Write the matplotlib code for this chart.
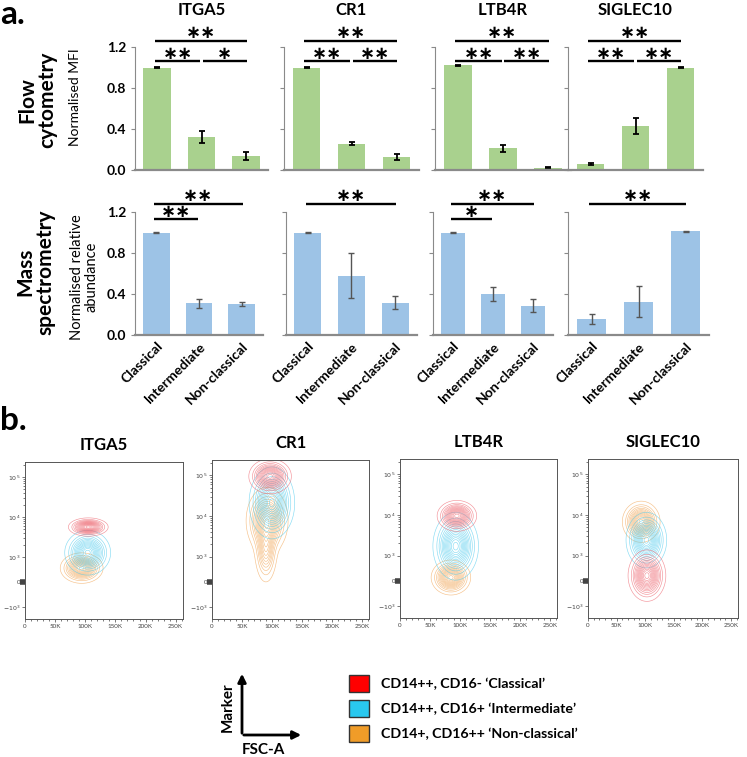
import numpy as np
import matplotlib
matplotlib.use("Agg")
import matplotlib.pyplot as plt
from matplotlib.patches import Patch, FancyArrowPatch

plt.rcParams['font.family'] = ['Lato', 'DejaVu Sans']

W, H = 747, 757

groups = ['Classical', 'Intermediate', 'Non-classical']
markers = ['ITGA5', 'CR1', 'LTB4R', 'SIGLEC10']

# flow cytometry, normalised MFI
flow_mean = {
    'ITGA5': [1.0, 0.32, 0.135],
    'CR1': [1.0, 0.255, 0.125],
    'LTB4R': [1.02, 0.21, 0.02],
    'SIGLEC10': [0.055, 0.43, 1.0],
}
flow_err = {
    'ITGA5': [0.005, 0.058, 0.04],
    'CR1': [0.005, 0.015, 0.03],
    'LTB4R': [0.005, 0.03, 0.005],
    'SIGLEC10': [0.01, 0.075, 0.005],
}
# mass spectrometry, normalised relative abundance
ms_mean = {
    'ITGA5': [1.0, 0.31, 0.30],
    'CR1': [1.0, 0.58, 0.315],
    'LTB4R': [1.0, 0.40, 0.285],
    'SIGLEC10': [0.155, 0.325, 1.01],
}
ms_err = {
    'ITGA5': [0.004, 0.042, 0.02],
    'CR1': [0.004, 0.22, 0.065],
    'LTB4R': [0.004, 0.073, 0.064],
    'SIGLEC10': [0.047, 0.15, 0.004],
}

# significance brackets: (group from, group to, height, stars)
flow_sig = {
    'ITGA5': [(0, 2, 1.26, '∗∗'), (0, 1, 1.06, '∗∗'), (1, 2, 1.06, '∗')],
    'CR1': [(0, 2, 1.26, '∗∗'), (0, 1, 1.06, '∗∗'), (1, 2, 1.06, '∗∗')],
    'LTB4R': [(0, 2, 1.26, '∗∗'), (0, 1, 1.06, '∗∗'), (1, 2, 1.06, '∗∗')],
    'SIGLEC10': [(0, 2, 1.26, '∗∗'), (0, 1, 1.06, '∗∗'), (1, 2, 1.06, '∗∗')],
}
ms_sig = {
    'ITGA5': [(0, 2, 1.28, '∗∗'), (0, 1, 1.13, '∗∗')],
    'CR1': [(0, 2, 1.28, '∗∗')],
    'LTB4R': [(0, 2, 1.28, '∗∗'), (0, 1, 1.13, '∗')],
    'SIGLEC10': [(0, 2, 1.28, '∗∗')],
}

# contour populations (classical, intermediate, non-classical)
# each component: (FSC-A centre, marker centre, FSC-A sd, marker sd in display decades, weight)
contour_pops = {
    'ITGA5': [
        [(105e3, 5700, 13e3, 0.09, 1.0)],
        [(104e3, 1300, 15e3, 0.22, 1.0)],
        [(94e3, 565, 14e3, 0.15, 1.0)],
    ],
    'CR1': [
        [(97e3, 95000, 14e3, 0.17, 1.0)],
        [(100e3, 21000, 15e3, 0.35, 1.0)],
        [(92e3, 7600, 14e3, 0.33, 1.0), (90e3, 1500, 8e3, 0.35, 0.6)],
    ],
    'LTB4R': [
        [(95e3, 9500, 13e3, 0.15, 1.0)],
        [(93e3, 1700, 15e3, 0.33, 1.0)],
        [(85e3, 125, 13e3, 0.17, 1.0)],
    ],
    'SIGLEC10': [
        [(103e3, 200, 13e3, 0.25, 1.0)],
        [(102e3, 2400, 14e3, 0.27, 1.0)],
        [(93e3, 6800, 13e3, 0.2, 1.0)],
    ],
}
pop_colors = ['#ee6670', '#55cdee', '#f2a85a']
legend_colors = ['#ff0000', '#29c8ef', '#f09c28']
legend_labels = ["CD14++, CD16- \u2018Classical\u2019",
                 "CD14++, CD16+ \u2018Intermediate\u2019",
                 "CD14+, CD16++ \u2018Non-classical\u2019"]

fsc_ticks = [0, 50e3, 100e3, 150e3, 200e3, 250e3]
fsc_labels = ['0', '50K', '100K', '150K', '200K', '250K']
marker_ticks = [-1e3, 0, 1e3, 1e4, 1e5]
marker_labels = ['$-10^3$', '0', '$10^3$', '$10^4$', '$10^5$']


def biex(y):
    y = np.asarray(y, dtype=float)
    a = np.abs(y)
    lg = 0.62 + np.log10(np.maximum(a, 1000) / 1000)
    return np.sign(y) * np.where(a <= 1000, a / 1000 * 0.62, lg)


def biex_inv(t):
    t = np.asarray(t, dtype=float)
    a = np.abs(t)
    lg = 1000 * 10 ** (np.maximum(a, 0.62) - 0.62)
    return np.sign(t) * np.where(a <= 0.62, a / 0.62 * 1000, lg)


fig = plt.figure(figsize=(W / 100, H / 100), dpi=100)


def px_axes(left, top, right, bottom):
    return fig.add_axes([left / W, 1 - bottom / H, (right - left) / W, (bottom - top) / H])


def bar_panel(ax, means, errs, color, ecolor, elw, sig, first, bottom_row):
    x = np.arange(len(groups))
    ax.bar(x, means, width=0.62, color=color, yerr=errs, ecolor=ecolor,
           capsize=2, error_kw=dict(elinewidth=elw, capthick=elw))
    ax.set_xlim(-0.5, 2.5)
    ax.set_ylim(0, 1.2)
    ax.set_yticks([0, 0.4, 0.8, 1.2])
    for s in ['top', 'right']:
        ax.spines[s].set_visible(False)
    ax.spines['left'].set_color('#8a8a8a')
    ax.spines['left'].set_linewidth(0.8)
    ax.spines['bottom'].set_color('#8a8a8a')
    ax.spines['bottom'].set_linewidth(1.6)
    ax.tick_params(axis='y', length=3, color='#8a8a8a', labelsize=10)
    ax.tick_params(axis='x', length=0)
    if first:
        ax.set_yticklabels(['%.1f' % v for v in [0, 0.4, 0.8, 1.2]], fontweight='bold')
    else:
        ax.set_yticklabels([])
    if bottom_row:
        ax.set_xticks(x)
        ax.set_xticklabels(groups, rotation=45, ha='right', rotation_mode='anchor',
                           fontweight='bold', fontsize=10)
    else:
        ax.set_xticks([])
    for i, j, h, lab in sig:
        x0 = i - 0.05 if i == 0 else i + 0.03
        x1 = j + 0.02 if j == 2 else j - 0.03
        ax.plot([x0, x1], [h, h], color='black', lw=1.7, clip_on=False,
                solid_capstyle='butt')
        ax.annotate(lab, ((x0 + x1) / 2, h), xytext=(0, 5.5), textcoords='offset points',
                    ha='center', va='center', fontsize=13, fontweight='bold',
                    family=['DejaVu Sans'], annotation_clip=False)


top_pos = [(135, 133), (284, 135), (435, 136), (568, 135)]
bot_pos = [(135, 128), (286, 131), (433, 120), (568, 141)]

for k, m in enumerate(markers):
    l, w = top_pos[k]
    ax = px_axes(l, 47, l + w, 170)
    bar_panel(ax, flow_mean[m], flow_err[m], '#a9d18e', 'black', 1.3,
              flow_sig[m], k == 0, False)
    ax.set_title(m, fontsize=12, fontweight='bold', pad=23)

    l, w = bot_pos[k]
    ax = px_axes(l, 212, l + w, 335)
    bar_panel(ax, ms_mean[m], ms_err[m], '#9dc3e6', '#555555', 1.0,
              ms_sig[m], k == 0, True)

# row labels
fig.text(37 / W, 1 - 100 / H, 'Flow\ncytometry', rotation=90, ha='center', va='center',
         fontsize=15, fontweight='bold', linespacing=1.0, multialignment='center')
fig.text(75 / W, 1 - 97 / H, 'Normalised MFI', rotation=90, ha='center', va='center',
         fontsize=10)
fig.text(35 / W, 1 - 272 / H, 'Mass\nspectrometry', rotation=90, ha='center', va='center',
         fontsize=15, fontweight='bold', linespacing=1.0, multialignment='center')
fig.text(84 / W, 1 - 277 / H, 'Normalised relative\nabundance', rotation=90, ha='center',
         va='center', fontsize=10.5, linespacing=1.0, multialignment='center')

fig.text(0, 1 - 14 / H, 'a.', fontsize=24, fontweight='bold', va='center', ha='left')
fig.text(0, 1 - 420 / H, 'b.', fontsize=24, fontweight='bold', va='center', ha='left')

# contour plots
flow_boxes = [(25, 462, 183, 619), (212, 460, 369, 619), (400, 459, 557, 618), (588, 459, 738, 618)]
gx = np.linspace(0, 262144, 300)
gt = np.linspace(-0.95, 3.05, 300)
GX, GT = np.meshgrid(gx, gt)
GY = biex_inv(GT)
levels = np.linspace(0.04, 0.96, 14)

for k, m in enumerate(markers):
    ax = px_axes(*flow_boxes[k])
    ax.set_yscale('function', functions=(biex, biex_inv))
    for p in [2, 1, 0]:
        Z = np.zeros_like(GX)
        for cx, cy, sx, st, wgt in contour_pops[m][p]:
            Z += wgt * np.exp(-0.5 * ((GX - cx) / sx) ** 2 - 0.5 * ((GT - biex(cy)) / st) ** 2)
        Z /= Z.max()
        ax.contour(GX, GY, Z, levels=levels, colors=pop_colors[p], linewidths=0.45, alpha=0.7)
    ax.set_xlim(0, 262144)
    ax.set_ylim(-2000, 2.4e5)
    ax.set_xticks(fsc_ticks)
    ax.set_xticklabels(fsc_labels)
    ax.set_xticks(np.arange(0, 262144, 10e3), minor=True)
    ax.set_yticks(marker_ticks)
    ax.set_yticklabels(marker_labels)
    ymin = [d * 10 ** e for e in [3, 4] for d in range(2, 10)] + [2e5]
    ax.set_yticks(ymin, minor=True)
    ax.tick_params(which='both', labelsize=4.5, colors='#444444', length=2, width=0.5, pad=1.5)
    ax.tick_params(which='minor', length=1.2)
    for s in ax.spines.values():
        s.set_color('#555555')
        s.set_linewidth(0.7)
    for tk in ax.yaxis.get_major_ticks():
        if tk.get_loc() == 0:
            tk.tick1line.set_markeredgewidth(4)
            tk.tick1line.set_markersize(3.5)
            tk.tick1line.set_color('black')
    ax.set_title(m, fontsize=12, fontweight='bold', pad=8.5)

# legend
handles = [Patch(facecolor=c, edgecolor='#333333', linewidth=1) for c in legend_colors]
fig.legend(handles, legend_labels, loc='upper left', bbox_to_anchor=(336 / W, 1 - 662 / H),
           frameon=False, handlelength=1.45, handleheight=1.45, labelspacing=0.6,
           handletextpad=0.8, prop=dict(weight='bold', size=10.2))

# axis key
fig.add_artist(FancyArrowPatch((242 / W, 1 - 736 / H), (242 / W, 1 - 671 / H),
                               transform=fig.transFigure, arrowstyle='-|>',
                               mutation_scale=12, lw=2, color='black'))
fig.add_artist(FancyArrowPatch((241 / W, 1 - 735 / H), (304 / W, 1 - 735 / H),
                               transform=fig.transFigure, arrowstyle='-|>',
                               mutation_scale=12, lw=2, color='black'))
fig.text(228 / W, 1 - 707 / H, 'Marker', rotation=90, ha='center', va='center',
         fontsize=11, fontweight='bold')
fig.text(263 / W, 1 - 750 / H, 'FSC-A', ha='center', va='center',
         fontsize=11, fontweight='bold')

fig.savefig('out.png', dpi=100)
